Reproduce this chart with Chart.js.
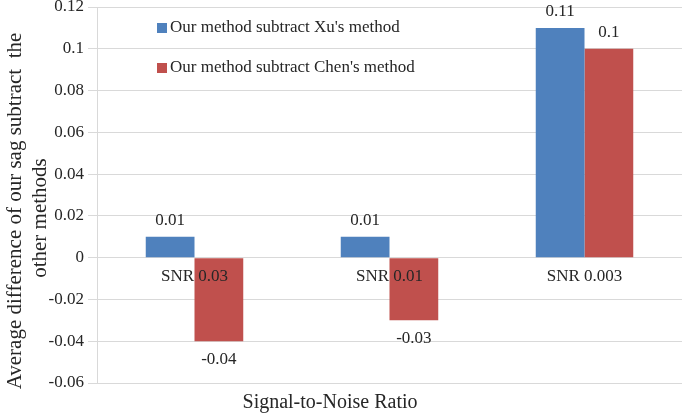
<!DOCTYPE html>
<html>
<head>
<meta charset="utf-8">
<script src="https://cdn.jsdelivr.net/npm/chart.js@4"></script>
<style>
  html, body { margin: 0; padding: 0; background: #fff; }
  #wrap { width: 685px; height: 414px; }
</style>
</head>
<body>
<div id="wrap"><canvas id="diffChart"></canvas></div>
<script>
// ===== DATA =====
const categories = ["SNR 0.03", "SNR 0.01", "SNR 0.003"];
const xuDiff = [0.01, 0.01, 0.11];
const chenDiff = [-0.04, -0.03, 0.1];
const seriesNames = ["Our method subtract Xu's method", "Our method subtract Chen's method"];
const yTitle = ["Average difference of our sag subtract  the", "other methods"];
const xTitle = "Signal-to-Noise Ratio";

const FONT = "'Liberation Serif', 'Times New Roman', serif";
const TXT = "#262626";

// labels, legend and titles drawn on the canvas
const decorPlugin = {
    id: "decor",
    afterDatasetsDraw(chart) {
        const ctx = chart.ctx;
        const x = chart.scales.x;
        const y = chart.scales.y;
        ctx.save();
        ctx.fillStyle = TXT;
        ctx.font = "17px " + FONT;
        ctx.textAlign = "center";
        ctx.textBaseline = "middle";

        // value labels
        chart.data.datasets.forEach((ds, di) => {
            chart.getDatasetMeta(di).data.forEach((bar, i) => {
                const v = ds.data[i];
                const yy = v >= 0 ? bar.y - 16 : bar.y + 18;
                ctx.fillText(String(v), bar.x, yy);
            });
        });

        // category labels next to the zero line
        const y0 = y.getPixelForValue(0);
        categories.forEach((c, i) => {
            ctx.fillText(c, x.getPixelForValue(i), y0 + 19);
        });

        // legend
        ctx.textAlign = "left";
        chart.data.datasets.forEach((ds, di) => {
            const ly = 28 + di * 40;
            ctx.fillStyle = ds.backgroundColor;
            ctx.fillRect(157, ly - 5, 10, 10);
            ctx.fillStyle = TXT;
            ctx.fillText(ds.label, 170, ly);
        });

        // axis titles
        ctx.textAlign = "center";
        ctx.font = "20px " + FONT;
        ctx.fillText(xTitle, 330, 403);
        ctx.rotate(-Math.PI / 2);
        ctx.font = "21px " + FONT;
        ctx.fillText(yTitle[0], -211, 15);
        ctx.fillText(yTitle[1], -218, 40);
        ctx.restore();
    }
};

const ctx = document.getElementById("diffChart");

new Chart(ctx, {
    type: "bar",
    data: {
        labels: categories,
        datasets: [{
            label: seriesNames[0],
            data: xuDiff,
            backgroundColor: "#4F81BD"
        }, {
            label: seriesNames[1],
            data: chenDiff,
            backgroundColor: "#C0504D"
        }]
    },
    options: {
        responsive: true,
        maintainAspectRatio: false,
        animation: false,
        categoryPercentage: 0.5,
        barPercentage: 1.0,
        layout: {
            padding: { left: 40, right: 3, top: 7, bottom: 31 }
        },
        plugins: {
            legend: { display: false },
            tooltip: { enabled: false }
        },
        scales: {
            x: {
                display: false
            },
            y: {
                min: -0.06,
                max: 0.12,
                afterFit(s) {
                    s.width = 57;
                    s.paddingTop = 0;
                    s.paddingBottom = 0;
                },
                ticks: {
                    stepSize: 0.02,
                    padding: 4,
                    color: TXT,
                    font: { family: FONT, size: 17 },
                    callback: v => String(Math.round(v * 100) / 100)
                },
                grid: {
                    color: "#d9d9d9",
                    tickLength: 9,
                    lineWidth: 1
                },
                border: { color: "#d9d9d9" }
            }
        }
    },
    plugins: [decorPlugin]
});
</script>
</body>
</html>
